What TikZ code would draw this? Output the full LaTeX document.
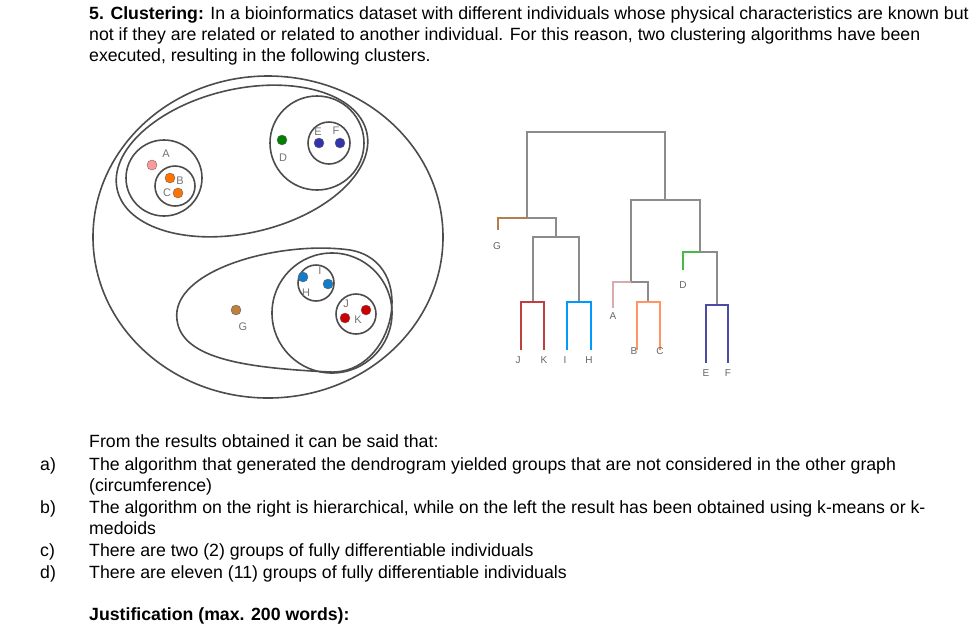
\documentclass[tikz,border=0pt]{standalone}
\usepackage{fontspec}
\setmainfont{Liberation Sans}
\begin{document}
\begin{tikzpicture}[x=1pt,y=-1pt,
 txt/.style={anchor=base west,inner sep=0pt,font=\fontsize{17.7}{21}\selectfont},
 ring/.style={draw=black!70,line width=1.6pt},
 pt/.style={circle,draw=black!60,line width=0.4pt,minimum size=10pt,inner sep=0pt},
 lbl/.style={inner sep=0pt,text=black!55,font=\fontsize{11}{11}\selectfont},
 dl/.style={inner sep=0pt,text=black!60,font=\fontsize{10}{10}\selectfont},
 br/.style={line width=1.4pt,draw=black!45}]
\useasboundingbox (0,0) rectangle (976,630);
% text
\node[txt] (t1) at (89,19) {\textbf{5. Clustering:} In a bioinformatics dataset with different individuals whose physical characteristics are known but};
\node[txt] (t2) at (89,40) {not if they are related or related to another individual. For this reason, two clustering algorithms have been};
\node[txt] (t3) at (89,61) {executed, resulting in the following clusters.};
\node[txt] (q0) at (89,447) {From the results obtained it can be said that:};
\node[txt] (la) at (40,470) {a)};
\node[txt] (qa) at (89,470) {The algorithm that generated the dendrogram yielded groups that are not considered in the other graph};
\node[txt] (qa2) at (89,491) {(circumference)};
\node[txt] (lb) at (40,513) {b)};
\node[txt] (qb) at (89,513) {The algorithm on the right is hierarchical, while on the left the result has been obtained using k-means or k-};
\node[txt] (qb2) at (89,534) {medoids};
\node[txt] (lc) at (40,556) {c)};
\node[txt] (qc) at (89,556) {There are two (2) groups of fully differentiable individuals};
\node[txt] (ld) at (40,578) {d)};
\node[txt] (qd) at (89,578) {There are eleven (11) groups of fully differentiable individuals};
\node[txt] (qj) at (89,620) {\textbf{Justification (max. 200 words):}};
% left diagram
\draw[ring] (268,237) ellipse (175 and 161);
\draw[ring,rotate around={13:(242,161)}] (242,161) ellipse (128 and 72);
\draw[ring] (164,178) circle (38);
\draw[ring] (175,186) circle (20);
\draw[ring] (317,143) circle (47);
\draw[ring] (329,143) circle (21);
\draw[ring] (177,320) .. controls (170,270) and (280,240) .. (350,250) .. controls (420,262) and (395,375) .. (330,372) .. controls (250,368) and (182,360) .. (177,320) -- cycle;
\draw[ring] (332,313) circle (60);
\draw[ring] (316,283) circle (18);
\draw[ring] (356,314) circle (20);
\node[pt,fill=pink!80!red] (A) at (152,165) {};
\node[pt,fill=orange!90!red] (B) at (170,178) {};
\node[pt,fill=orange!90!red] (C) at (178,193) {};
\node[pt,fill=green!50!black] (D) at (282,140) {};
\node[pt,fill=blue!60!black!80] (E) at (319,143) {};
\node[pt,fill=blue!60!black!80] (F) at (340,143) {};
\node[pt,fill=brown] (G) at (236,310) {};
\node[pt,fill=cyan!60!blue] (H) at (303,277) {};
\node[pt,fill=cyan!60!blue] (I) at (328,284) {};
\node[pt,fill=red!80!black] (K) at (345,318) {};
\node[pt,fill=red!80!black] (J) at (366,310) {};
\node[lbl] (lA) at (166,154) {A};
\node[lbl] (lB) at (180,181) {B};
\node[lbl] (lC) at (167,193) {C};
\node[lbl] (lD) at (283,158) {D};
\node[lbl] (lE) at (318,132) {E};
\node[lbl] (lF) at (336,131) {F};
\node[lbl] (lG) at (243,327) {G};
\node[lbl] (lH) at (306,293) {H};
\node[lbl] (lI) at (320,271) {I};
\node[lbl] (lJ) at (346,304) {J};
\node[lbl] (lK) at (358,320) {K};
% dendrogram
\draw[br,line width=2.4pt] (527,218) -- (527,132) -- (665,132) -- (665,200);
\draw[br] (556,237) -- (556,218) -- (527,218);
\draw[br,draw=orange!40!gray] (527,218) -- (498,218) -- (498,230);
\draw[br] (533,302) -- (533,237) -- (579,237) -- (579,302);
\draw[br,draw=red!50!gray] (521,350) -- (521,302) -- (544,302) -- (544,350);
\draw[br,draw=blue!40!cyan] (567,350) -- (567,302) -- (591,302) -- (591,350);
\draw[br] (631,282) -- (631,200) -- (700,200) -- (700,252);
\draw[br] (648,302) -- (648,282) -- (631,282);
\draw[br,draw=pink!70!gray] (631,282) -- (613,282) -- (613,308);
\draw[br,draw=orange!60!red!60] (637,350) -- (637,302) -- (660,302) -- (660,350);
\draw[br] (717,305) -- (717,252) -- (700,252);
\draw[br,draw=green!45!gray] (700,252) -- (683,252) -- (683,270);
\draw[br,draw=blue!50!black!70] (706,363) -- (706,305) -- (728,305) -- (728,363);
\node[dl] (dG) at (497,246) {G};
\node[dl] (dJ) at (518,360) {J};
\node[dl] (dK) at (544,360) {K};
\node[dl] (dI) at (565,360) {I};
\node[dl] (dH) at (589,360) {H};
\node[dl] (dA) at (613,316) {A};
\node[dl] (dB) at (634,351) {B};
\node[dl] (dC) at (660,351) {C};
\node[dl] (dD) at (683,285) {D};
\node[dl] (dE) at (706,373) {E};
\node[dl] (dF) at (728,373) {F};
\end{tikzpicture}
\end{document}
